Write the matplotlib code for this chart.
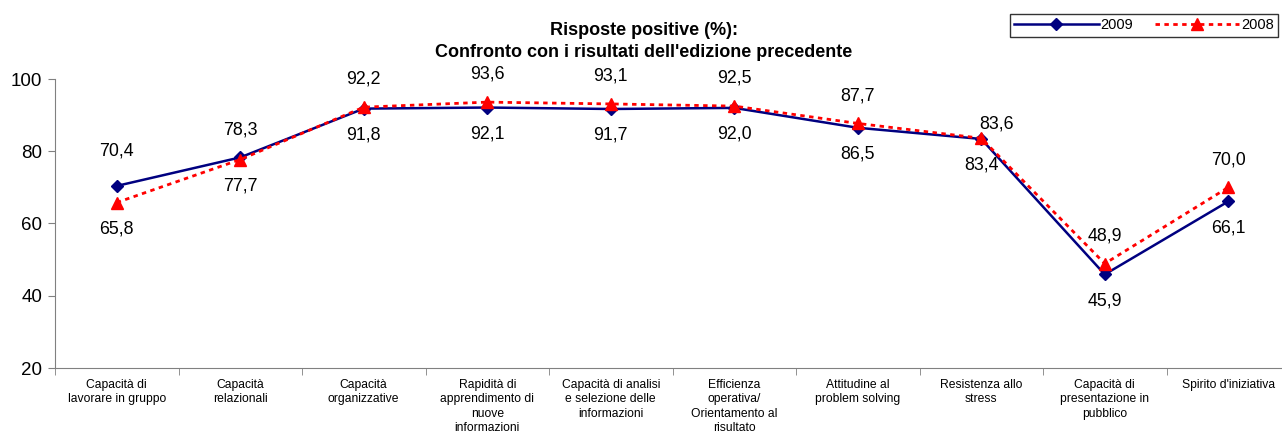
import matplotlib.pyplot as plt
import numpy as np

plt.rcParams['font.family'] = ['Liberation Sans', 'DejaVu Sans']

categories = [
    "Capacità di\nlavorare in gruppo",
    "Capacità\nrelazionali",
    "Capacità\norganizzative",
    "Rapidità di\napprendimento di\nnuove\ninformazioni",
    "Capacità di analisi\ne selezione delle\ninformazioni",
    "Efficienza\noperativa/\nOrientamento al\nrisultato",
    "Attitudine al\nproblem solving",
    "Resistenza allo\nstress",
    "Capacità di\npresentazione in\npubblico",
    "Spirito d'iniziativa",
]
values_2009 = [70.4, 78.3, 91.8, 92.1, 91.7, 92.0, 86.5, 83.4, 45.9, 66.1]
values_2008 = [65.8, 77.7, 92.2, 93.6, 93.1, 92.5, 87.7, 83.6, 48.9, 70.0]

fig = plt.figure(figsize=(12.82, 4.48), dpi=100)
ax = fig.add_axes([55 / 1282, 80 / 448, 1235 / 1282, 289 / 448])

x = np.arange(len(categories))
ax.plot(x, values_2009, '-', color='#000080', linewidth=1.8, marker='D',
        markersize=6.5, label='2009', zorder=3)
ax.plot(x, values_2008, '--', color='#FF0000', linewidth=2.0, marker='^',
        markersize=9, label='2008', zorder=4, dashes=(1.6, 1.6))

# data labels: the higher value goes above the point, the lower one below
special = {(0, 70.4): (0, 25), (7, 83.6): (11, 10)}
for i in range(len(x)):
    a, b = values_2009[i], values_2008[i]
    for v in (a, b):
        up = v >= max(a, b)
        off = special.get((i, v), (0, 20 if up else -19))
        ax.annotate(f"{v:.1f}".replace('.', ','), (x[i], v), xytext=off,
                    textcoords='offset points', ha='center', va='center',
                    fontsize=12.8)

ax.set_xlim(-0.5, len(categories) - 0.5)
ax.set_ylim(20, 100)
ax.set_yticks([20, 40, 60, 80, 100])
ax.tick_params(axis='y', labelsize=13.5, length=5, color='#808080', pad=4)

ax.set_xticks(x)
ax.set_xticklabels(categories, fontsize=8.7, linespacing=1.25, va='top')
ax.set_xticks(np.arange(len(categories) + 1) - 0.5, minor=True)
ax.tick_params(axis='x', which='major', length=0, pad=8)
ax.tick_params(axis='x', which='minor', length=5, color='#808080')

for side in ('top', 'right'):
    ax.spines[side].set_visible(False)
for side in ('left', 'bottom'):
    ax.spines[side].set_color('#808080')

fig.text(0.502, 1 - 22 / 448, "Risposte positive (%):\nConfronto con i risultati dell'edizione precedente",
         ha='center', va='top', fontsize=13, fontweight='bold', linespacing=1.35)

leg = fig.legend(loc='upper right', bbox_to_anchor=(1278 / 1282, 1 - 14 / 448), ncol=2,
                 fontsize=10.5, frameon=True, fancybox=False, edgecolor='black',
                 handlelength=5.8, columnspacing=1.5, handletextpad=0.1,
                 borderpad=0.3, borderaxespad=0)
leg.get_frame().set_linewidth(1.0)

plt.savefig('out.png', dpi=100)
